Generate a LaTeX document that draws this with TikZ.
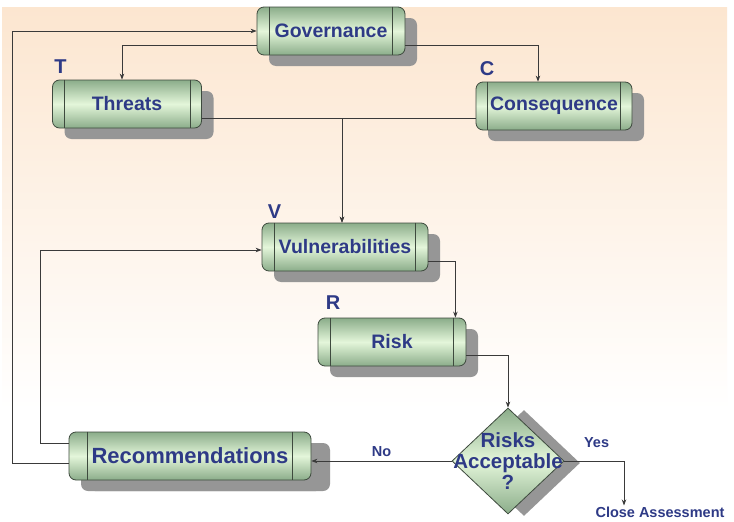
\documentclass[tikz,border=0pt]{standalone}
\usepackage{fontspec}
\setmainfont{Liberation Sans}
\usetikzlibrary{shapes.geometric,shadows,arrows.meta}

\begin{document}
\begin{tikzpicture}[x=1pt, y=-1pt,
  >={Stealth[length=6pt,width=4.5pt]},
  box/.style={rounded corners=7pt, draw=lineBOX, line width=0.8pt,
    top color=darkBOX, bottom color=darkBOX, middle color=lightBOX,
    minimum height=48pt, inner sep=0pt, text=navyTXT,
    font=\fontsize{19.5}{21}\selectfont\bfseries,
    drop shadow={shadow xshift=12pt, shadow yshift=-11pt, fill=greyShadow, opacity=1}},
  decide/.style={diamond, draw=lineBOX, line width=0.8pt, inner sep=0pt,
    top color=darkBOX, bottom color=darkBOX, middle color=lightBOX,
    drop shadow={shadow xshift=16pt, shadow yshift=-2pt, fill=greyShadow, opacity=1}},
  tag/.style={text=navyTXT, font=\fontsize{20}{22}\selectfont\bfseries, inner sep=0pt},
  note/.style={text=navyTXT, font=\fontsize{14.5}{16}\selectfont\bfseries, inner sep=1pt},
  rim/.style={draw=lineBOX, line width=0.6pt},
  edge/.style={draw=lineGrey, line width=0.8pt}]

\definecolor{peachBack}{HTML}{FCE6D0}
\definecolor{darkBOX}{HTML}{8BAD8A}
\definecolor{lightBOX}{HTML}{E4F6DA}
\definecolor{lineBOX}{HTML}{3E4A3E}
\definecolor{greyShadow}{HTML}{969696}
\definecolor{navyTXT}{HTML}{2E3A86}
\definecolor{lineGrey}{HTML}{3A3A3A}

% background
\fill[white] (0,0) rectangle (734,522);
\shade[top color=peachBack, bottom color=white] (2,7) rectangle (727,410);
\useasboundingbox (0,0) rectangle (734,522);

% boxes
\node[box, minimum width=148pt] (gov) at (331,31) {Governance};
\node[box, minimum width=149pt] (threats) at (127,104) {Threats};
\node[box, minimum width=156pt] (cons) at (554,106) {Consequence};
\node[box, minimum width=166pt] (vul) at (345,247) {Vulnerabilities};
\node[box, minimum width=148pt] (risk) at (392,342) {Risk};
\node[box, minimum width=242pt, font=\fontsize{22}{24}\selectfont\bfseries,
  drop shadow={shadow xshift=19pt, shadow yshift=-11pt, fill=greyShadow, opacity=1}]
  (recs) at (190,456) {Recommendations};
\node[decide, minimum width=112pt, minimum height=106pt,
  label={[align=center, text=navyTXT, font=\fontsize{20.5}{21}\selectfont\bfseries]center:{Risks\\Acceptable\\?}}]
  (accept) at (508,461) {};

\foreach \n/\d in {gov/13,threats/12,cons/12,vul/13,risk/13,recs/19} {
  \draw[rim] ([xshift=\d pt]\n.north west) -- ([xshift=\d pt]\n.south west);
  \draw[rim] ([xshift=-\d pt]\n.north east) -- ([xshift=-\d pt]\n.south east);
}

% letters
\node[tag, anchor=base west] (tagT) at ([xshift=2pt, yshift=6pt]threats.north west) {T};
\node[tag, anchor=base west] (tagC) at ([xshift=4pt, yshift=6pt]cons.north west) {C};
\node[tag, anchor=base west] (tagV) at ([xshift=6pt, yshift=4pt]vul.north west) {V};
\node[tag, anchor=base west] (tagR) at ([xshift=8pt, yshift=8pt]risk.north west) {R};

\node[note] (close) at (660,512) {Close Assessment};

% connectors
\draw[edge, ->] ([yshift=-14pt]gov.west) -| ([xshift=-5pt]threats.north);
\draw[edge, ->] ([yshift=-14pt]gov.east) -| ([xshift=-16pt]cons.north);
\draw[edge, ->] ([yshift=-14pt]threats.east) -| ([xshift=-3pt]vul.north);
\draw[edge, ->] ([yshift=-12pt]cons.west) -| ([xshift=-3pt]vul.north);
\draw[edge, ->] ([yshift=-14pt]vul.east) -| ([xshift=-11pt]risk.north east);
\draw[edge, ->] ([yshift=-13pt]risk.east) -| (accept.north);
\draw[edge, ->] (accept.west) -- node[note, above=3pt, pos=0.5] {No} (accept.west -| recs.east);
\draw[edge, ->] (accept.east) -| node[note, above=12pt, pos=0.27] {Yes} ([xshift=-36pt]close.north);
\draw[edge, ->] ([yshift=-7pt]recs.west) -- ++(-56,0) |- (gov.west);
\draw[edge, ->] ([yshift=13pt]recs.west) -- ++(-28,0) |- ([yshift=-3pt]vul.west);

\end{tikzpicture}
\end{document}
